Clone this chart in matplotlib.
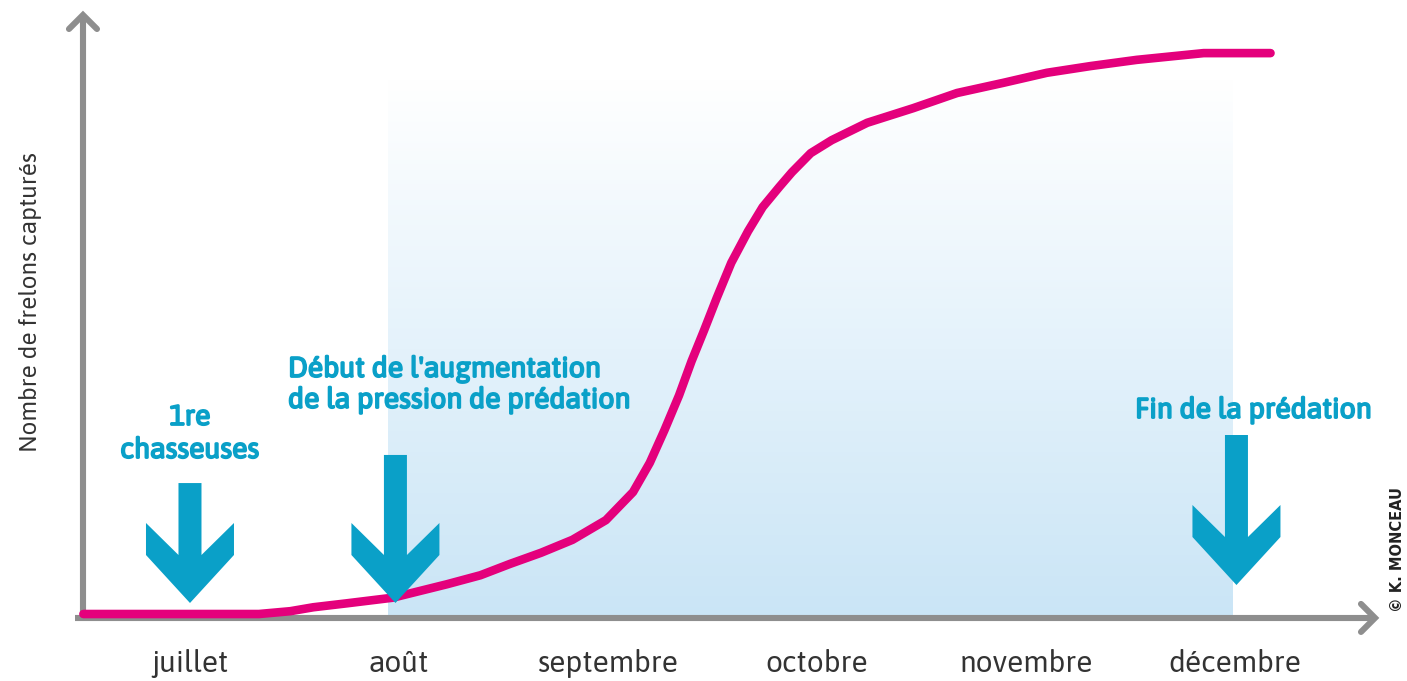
"""Courbe des captures de frelons (juillet -> decembre)"""
import numpy as np
import matplotlib
matplotlib.use("Agg")
import matplotlib.pyplot as plt
import matplotlib.patheffects as pe
from matplotlib.patches import Polygon

# DATA
mois = ["juillet", "août", "septembre", "octobre", "novembre", "décembre"]

# courbe (x en mois, 0 = juillet ; y en % du maximum)
courbe_x = [-0.51, 0.33, 0.48, 0.59, 0.75, 0.97, 1.23, 1.39, 1.53, 1.68,
            1.83, 1.99, 2.12, 2.20, 2.27, 2.34, 2.40, 2.46, 2.52, 2.59,
            2.67, 2.74, 2.82, 2.88, 2.97, 3.07, 3.24, 3.46, 3.67, 3.89,
            4.10, 4.31, 4.53, 4.85, 5.17]
courbe_y = [0.0, 0.0, 0.5, 1.2, 1.9, 2.9, 5.3, 6.9, 8.9, 10.9,
            13.2, 16.7, 21.7, 26.9, 32.7, 38.9, 45.0, 50.5, 56.2, 62.5,
            68.1, 72.4, 76.0, 78.6, 82.0, 84.3, 87.4, 90.0, 92.7, 94.5,
            96.3, 97.5, 98.6, 99.8, 99.8]

# fleches : (x, pointe, haut du trait)
fleches_x = [0.0, 0.983, 5.007]
fleches_pointe = [1.96, 1.96, 5.16]
fleches_haut = [23.3, 28.3, 31.85]

zone_debut, zone_fin, zone_haut = 0.947, 4.99, 95.0

CYAN = "#0aa0c8"
ROSE = "#e4007c"
GRIS = "#8e8e8e"
TEXTE = "#333333"
POLICE = ["Asap", "DejaVu Sans"]

W, H = 1407, 681
fig = plt.figure(figsize=(W / 100, H / 100), dpi=100)
ax = fig.add_axes([0, 0, 1, 1])
xlim = (-0.909, 5.823)
ylim = (-11.92, 109.25)
ax.set_xlim(*xlim)
ax.set_ylim(*ylim)
ax.axis("off")

# pixel -> unites de donnees
kx = (xlim[1] - xlim[0]) / W
ky = (ylim[1] - ylim[0]) / H

# zone degradee bleue
grad = np.linspace(0, 1, 256).reshape(-1, 1)
cmap = matplotlib.colors.LinearSegmentedColormap.from_list(
    "bleu", ["#cae5f6", "#e4f2fb", "#ffffff"])
ax.imshow(grad, extent=(zone_debut, zone_fin, -0.7, zone_haut), origin="lower",
          cmap=cmap, aspect="auto", zorder=0, interpolation="bicubic")

# axes avec fleches
ax_y0 = -0.7
ax_x0 = -0.512
lw_ax = 4.4
ax.plot([xlim[0] + 75 * kx, xlim[0] + 1375 * kx], [ax_y0, ax_y0], color=GRIS,
        lw=lw_ax, solid_capstyle="butt", zorder=1)
ax.plot([ax_x0, ax_x0], [ax_y0, ylim[1] - 15 * ky], color=GRIS, lw=lw_ax,
        solid_capstyle="butt", zorder=1)
tx = xlim[0] + 1375 * kx
ax.plot([tx - 14 * kx, tx, tx - 14 * kx], [ax_y0 + 14 * ky, ax_y0, ax_y0 - 14 * ky],
        color=GRIS, lw=lw_ax, solid_joinstyle="miter", solid_capstyle="round", zorder=1)
ty = ylim[1] - 15 * ky
ax.plot([ax_x0 - 14 * kx, ax_x0, ax_x0 + 14 * kx], [ty - 14 * ky, ty, ty - 14 * ky],
        color=GRIS, lw=lw_ax, solid_joinstyle="miter", solid_capstyle="round", zorder=1)

# courbe
ax.plot(courbe_x, courbe_y, color=ROSE, lw=6.2, solid_capstyle="round",
        solid_joinstyle="round", zorder=3)


def fleche(x, pointe, haut):
    hs, hw, hl, ed = 11.5 * kx, 44 * kx, 80 * ky, 32 * ky
    base = pointe + hl
    pts = [(x - hs, haut), (x + hs, haut), (x + hs, base - ed), (x + hw, base),
           (x + hw, base - ed), (x, pointe), (x - hw, base - ed), (x - hw, base),
           (x - hs, base - ed)]
    ax.add_patch(Polygon(pts, closed=True, facecolor=CYAN, edgecolor="none",
                         zorder=4))


for fx, fp, fh in zip(fleches_x, fleches_pointe, fleches_haut):
    fleche(fx, fp, fh)


def py(p):
    return ylim[1] - p * ky


def px(p):
    return xlim[0] + p * kx


# pas de graisse bold pour Asap : on epaissit le trace
gras = [pe.withStroke(linewidth=1.3, foreground=CYAN)]
txt = dict(color=CYAN, fontsize=20.5, family=POLICE, zorder=5, path_effects=gras)
ax.text(0.0, py(425), "1re", ha="center", va="baseline", **txt)
ax.text(0.0, py(458), "chasseuses", ha="center", va="baseline", **txt)
ax.text(px(288), py(377), "Début de l'augmentation", ha="left", va="baseline", **txt)
ax.text(px(288), py(408), "de la pression de prédation", ha="left", va="baseline", **txt)
ax.text(px(1135), py(418), "Fin de la prédation", ha="left", va="baseline", **txt)

# mois
for i, m in enumerate(mois):
    ax.text(i, py(672), m, ha="center", va="baseline", color=TEXTE,
            fontsize=21.5, family=POLICE)

ax.text(px(30), py(302), "Nombre de frelons capturés", rotation=90, ha="center",
        va="center", color=TEXTE, fontsize=17.5, family=POLICE)
ax.text(px(1398), py(550), "© K. MONCEAU", rotation=90, ha="center", va="center",
        color="#222222", fontsize=10.5, fontweight="bold", family="DejaVu Sans")

fig.savefig("out.png", dpi=100, facecolor="white")
